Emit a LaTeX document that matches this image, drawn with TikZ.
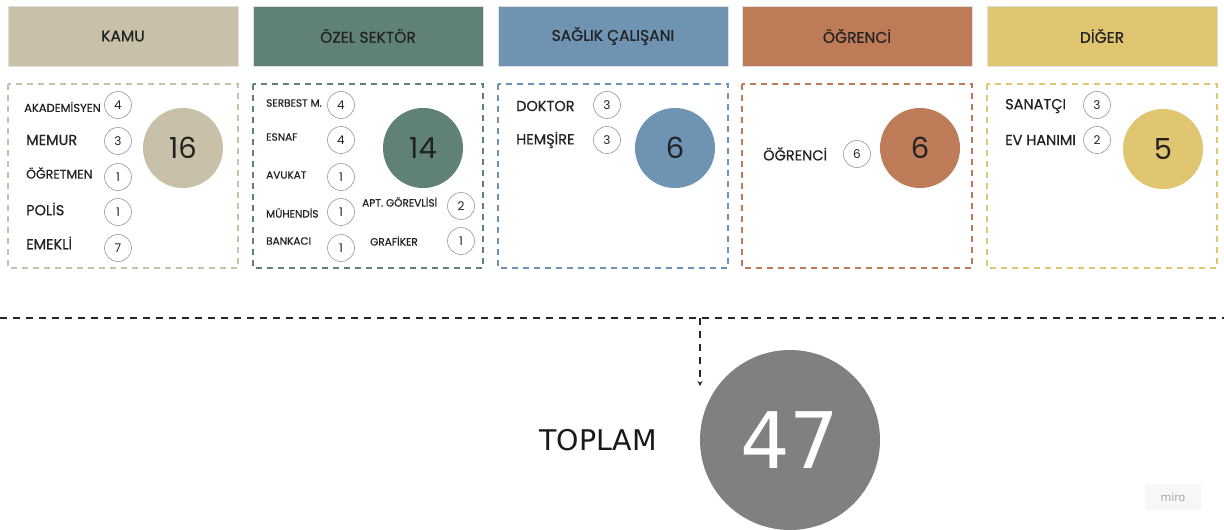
\documentclass[tikz,border=0pt]{standalone}
\usepackage{fontspec}
\setmainfont{Poppins}
\newfontfamily\labfont[FakeBold=0.6]{Poppins}
\newfontfamily\totfont{DejaVu Sans}
\usetikzlibrary{arrows.meta}
\definecolor{ckamu}{HTML}{C8C0A8}
\definecolor{cozel}{HTML}{5F8274}
\definecolor{csag}{HTML}{6F94B3}
\definecolor{cogr}{HTML}{BE7B57}
\definecolor{cdig}{HTML}{E0C671}
\definecolor{ctxt}{HTML}{222222}
\definecolor{ctot}{HTML}{808080}
\tikzset{
  header/.style={draw=black!12, line width=0.6pt, minimum width=230pt, minimum height=60pt, inner sep=0pt, font=\labfont\fontsize{15.5}{17}\selectfont, text=ctxt},
  panel/.style={dashed, dash pattern=on 6pt off 5pt, line width=1.6pt},
  bigc/.style={circle, minimum size=80pt, inner sep=0pt, font=\fontsize{29}{31}\selectfont, text=ctxt},
  smallc/.style={circle, draw=black!40, line width=0.6pt, fill=white, minimum size=27pt, inner sep=0pt, font=\fontsize{12}{14}\selectfont, text=ctxt},
  lab/.style={anchor=west, inner sep=0pt, font=\labfont\fontsize{14.5}{16}\selectfont, text=ctxt},
  slab/.style={anchor=west, inner sep=0pt, font=\labfont\fontsize{10.5}{12}\selectfont, text=ctxt},
  flow/.style={dashed, dash pattern=on 7pt off 6pt, line width=1.5pt, draw=black!85},
}
\begin{document}
\begin{tikzpicture}[x=1pt,y=-1pt]
\useasboundingbox (0,0) rectangle (1224,530);
\fill[white] (0,0) rectangle (1224,530);
% headers
\node[header, fill=ckamu] (hkamu) at (123,36) {KAMU};
\node[header, fill=cozel] (hozel) at (368,36) {ÖZEL SEKTÖR};
\node[header, fill=csag] (hsag) at (613,36) {SAĞLIK ÇALIŞANI};
\node[header, fill=cogr] (hogr) at (857,36) {ÖĞRENCİ};
\node[header, fill=cdig] (hdig) at (1102,36) {DİĞER};
% panels
\draw[panel, draw=ckamu] (8,84) rectangle (238,268);
\draw[panel, draw=cozel] (253,84) rectangle (483,268);
\draw[panel, draw=csag] (498,84) rectangle (728,268);
\draw[panel, draw=cogr] (742,84) rectangle (972,268);
\draw[panel, draw=cdig] (987,84) rectangle (1217,268);
% KAMU
\node[bigc, fill=ckamu] (bkamu) at (183,148) {16};
\node[slab, font=\labfont\fontsize{11.5}{13}\selectfont] (l11) at (24,107) {AKADEMİSYEN};
\node[smallc] (c11) at (118,105) {4};
\node[lab] (l12) at (26,140) {MEMUR};
\node[slab, font=\labfont\fontsize{12.5}{14}\selectfont] (l13) at (26,173) {ÖĞRETMEN};
\node[smallc] (c12) at (118,141) {3};
\node[smallc] (c13) at (118,177) {1};
\node[lab] (l14) at (26,209) {POLİS};
\node[smallc] (c14) at (118,212) {1};
\node[lab] (l15) at (26,243) {EMEKLİ};
\node[smallc] (c15) at (118,248) {7};
% OZEL
\node[bigc, fill=cozel] (bozel) at (423,148) {14};
\node[slab] (l21) at (266,103) {SERBEST M.};
\node[smallc] (c21) at (341,105) {4};
\node[slab] (l22) at (266,137) {ESNAF};
\node[smallc] (c22) at (341,140) {4};
\node[slab] (l23) at (266,175) {AVUKAT};
\node[smallc] (c23) at (341,177) {1};
\node[slab] (l24) at (266,213) {MÜHENDİS};
\node[smallc] (c24) at (341,212) {1};
\node[slab] (l25) at (266,241) {BANKACI};
\node[smallc] (c25) at (341,248) {1};
\node[slab] (l26) at (362,202) {APT. GÖREVLİSİ};
\node[smallc] (c26) at (461,206) {2};
\node[slab] (l27) at (370,241) {GRAFİKER};
\node[smallc] (c27) at (461,241) {1};
% SAGLIK
\node[bigc, fill=csag] (bsag) at (675,148) {6};
\node[lab] (l31) at (516,106) {DOKTOR};
\node[smallc] (c31) at (607,105) {3};
\node[lab] (l32) at (516,140) {HEMŞİRE};
\node[smallc] (c32) at (607,140) {3};
% OGRENCI
\node[bigc, fill=cogr] (bogr) at (920,148) {6};
\node[lab] (l41) at (763,154) {ÖĞRENCİ};
\node[smallc] (c41) at (857,154) {6};
% DIGER
\node[bigc, fill=cdig] (bdig) at (1163,149) {5};
\node[lab] (l51) at (1005,106) {SANATÇI};
\node[smallc] (c51) at (1097,105) {3};
\node[lab] (l52) at (1005,140) {EV HANIMI};
\node[smallc] (c52) at (1097,140) {2};
% total
\coordinate (lineL) at (0,318);
\coordinate (lineR) at (1224,318);
\coordinate (split) at (700,318);
\coordinate (arrowend) at (700,386);
\draw[flow] (lineL) -- (lineR);
\draw[flow, -{Stealth[length=5pt,width=5pt]}] (split) -- (arrowend);
\node[circle, fill=ctot, minimum size=180pt, inner sep=0pt, text=white, font=\totfont\fontsize{78}{80}\selectfont] (total) at (790,440) {47};
\node[anchor=west, inner sep=0pt, font=\totfont\fontsize{28.5}{30}\selectfont, text=black!90] (toplam) at (539,440) {TOPLAM};
\node[fill=black!3, rounded corners=2pt, minimum width=56pt, minimum height=26pt, text=black!35, font=\totfont\fontsize{11}{13}\selectfont] (miro) at (1173,497) {miro};
\end{tikzpicture}
\end{document}
